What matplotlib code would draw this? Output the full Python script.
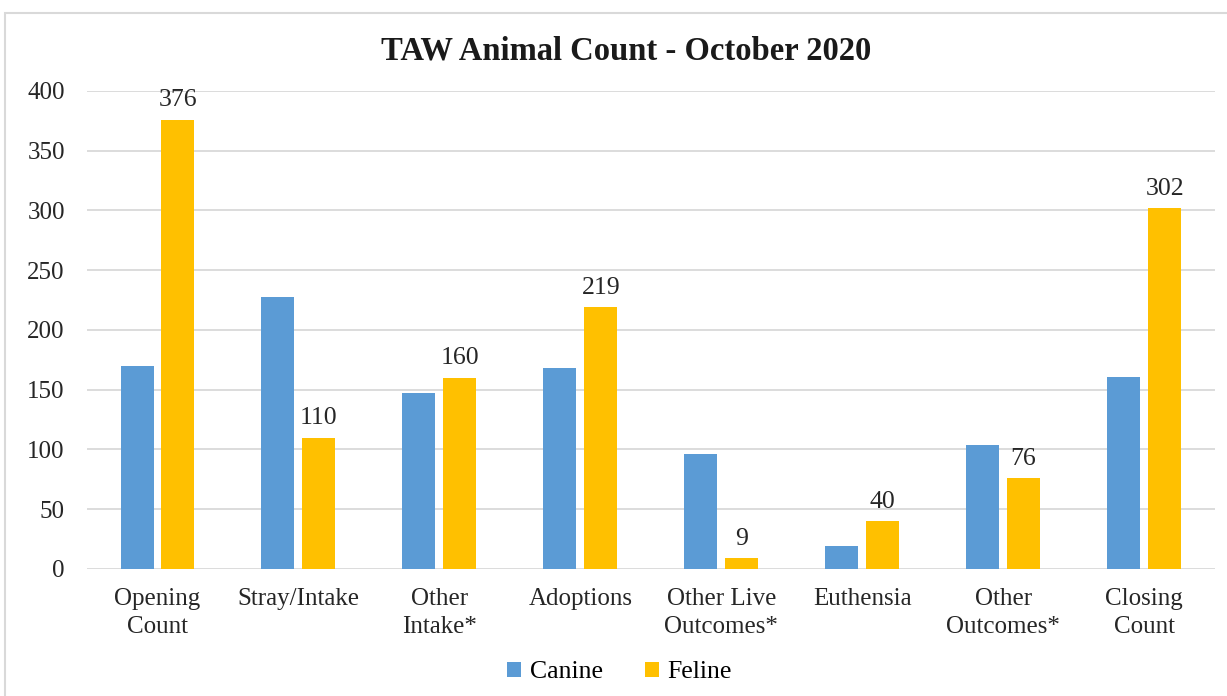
import numpy as np
import matplotlib.pyplot as plt
from matplotlib.patches import Rectangle

categories = ['Opening\nCount', 'Stray/Intake', 'Other\nIntake*', 'Adoptions',
              'Other Live\nOutcomes*', 'Euthensia', 'Other\nOutcomes*', 'Closing\nCount']
canine = [170, 228, 147, 168, 96, 19, 104, 161]
feline = [376, 110, 160, 219, 9, 40, 76, 302]

plt.rcParams['font.family'] = ['Liberation Serif', 'DejaVu Serif']

fig = plt.figure(figsize=(12.27, 6.96), dpi=100)
ax = fig.add_axes([0.0709, 0.1825, 0.919, 0.6868])

x = np.arange(len(categories))
w = 0.234
off = 0.145
ax.bar(x - off, canine, w, color='#5B9BD5', label='Canine', zorder=3)
bars = ax.bar(x + off, feline, w, color='#FFC000', label='Feline', zorder=3)

for b, v in zip(bars, feline):
    ax.text(b.get_x() + b.get_width() / 2, v + 7, str(v), ha='center', va='bottom',
            fontsize=18.5, color='#262626')

ax.set_xlim(-0.5, len(categories) - 0.5)
ax.set_ylim(0, 400)
ax.set_yticks(range(0, 401, 50))
ax.set_xticks(x)
ax.set_xticklabels(categories, fontsize=18, color='#262626', linespacing=1.3)
ax.tick_params(axis='y', labelsize=18, labelcolor='#262626', length=0, pad=16)
ax.tick_params(axis='x', length=0, pad=14)
ax.grid(axis='y', color='#D9D9D9', linewidth=1.3, zorder=0)
for s in ax.spines.values():
    s.set_visible(False)

fig.text(0.51, 0.927, 'TAW Animal Count - October 2020', ha='center', va='center',
         fontsize=23.5, fontweight='bold', color='#1a1a1a')

fig.legend(loc='center', bbox_to_anchor=(0.505, 0.034), ncol=2, frameon=False,
           fontsize=18.5, handlelength=0.55, handleheight=0.55, columnspacing=1.6,
           handletextpad=0.35)

fig.patches.append(Rectangle((5 / 1227, -0.1), 1.2, 1 - 13 / 696 + 0.1,
                             transform=fig.transFigure, fill=False,
                             edgecolor='#D9D9D9', linewidth=1.5))

fig.savefig('out.png', dpi=100)
